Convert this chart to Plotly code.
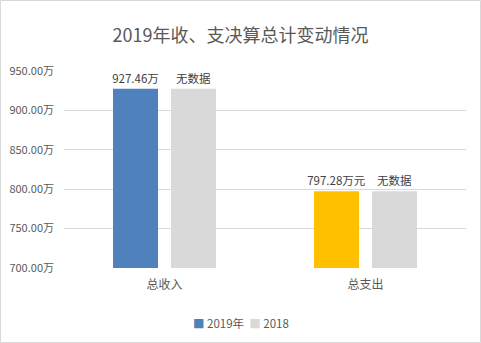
import plotly.graph_objects as go

categories = ["总收入", "总支出"]
values_2019 = [927.46, 797.28]
values_2018 = [927.46, 797.28]
labels_2019 = ["927.46万", "797.28万元"]
labels_2018 = ["无数据", "无数据"]
colors_2019 = ["#4F81BD", "#FFC000"]
color_2018 = "#D9D9D9"
tick_vals = [700, 750, 800, 850, 900, 950]
tick_text = [f"{v:.2f}万" for v in tick_vals]
series_names = ["2019年", "2018"]

FONT = "Noto Sans CJK SC"
GREY_TXT = "#595959"

fig = go.Figure()
fig.add_trace(go.Bar(
    name=series_names[0], x=categories, y=values_2019,
    marker=dict(color=colors_2019, line=dict(width=0)),
    text=labels_2019, textposition="outside", cliponaxis=False, constraintext="none",
    textfont=dict(size=11.5, color="#404040", family=FONT),
))
fig.add_trace(go.Bar(
    name=series_names[1], x=categories, y=values_2018,
    marker=dict(color=color_2018, line=dict(width=0)),
    text=labels_2018, textposition="outside", cliponaxis=False, constraintext="none",
    textfont=dict(size=11.5, color="#404040", family=FONT),
))

W, H = 481, 343
L, R, T, B = 64, 15, 71, 75
pw, ph = W - L - R, H - T - B

fig.update_layout(
    width=W, height=H,
    margin=dict(l=L, r=R, t=T, b=B, pad=0, autoexpand=False),
    paper_bgcolor="white", plot_bgcolor="white",
    barmode="group", bargap=0.423, bargroupgap=0.224,
    font=dict(family=FONT, color=GREY_TXT, size=12),
    title=dict(text="2019年收、支决算总计变动情况", x=0.5, xref="container", xanchor="center",
               y=1 - 36 / H, yref="container", yanchor="middle",
               font=dict(size=18, color=GREY_TXT, family=FONT)),
    showlegend=False,
    xaxis=dict(showgrid=False, showline=False, ticks="", automargin=False,
               tickfont=dict(size=12, color=GREY_TXT), ticklabelstandoff=8),
    yaxis=dict(range=[700, 950], tickvals=tick_vals, ticktext=tick_text, automargin=False,
               showgrid=True, gridcolor="#D9D9D9", gridwidth=1, zeroline=False, showline=False,
               tickfont=dict(size=11, color=GREY_TXT), ticklabelstandoff=9),
)

legend_text = (f"<span style='color:{colors_2019[0]}'>■</span> {series_names[0]}  "
               f"<span style='color:{color_2018}'>■</span> {series_names[1]}")
fig.add_annotation(text=legend_text, xref="paper", yref="paper",
                   x=(W / 2 - L) / pw, y=(H - B - 323) / ph, xanchor="center", yanchor="middle",
                   showarrow=False, font=dict(size=11.5, color=GREY_TXT, family=FONT))

fig.add_shape(type="rect", xref="paper", yref="paper",
              x0=(0.5 - L) / pw, x1=(W - 0.5 - L) / pw,
              y0=(H - B - (H - 0.5)) / ph, y1=(H - B - 0.5) / ph,
              line=dict(color="#D9D9D9", width=1), fillcolor="rgba(0,0,0,0)", layer="below")

fig.write_html("out.html")
